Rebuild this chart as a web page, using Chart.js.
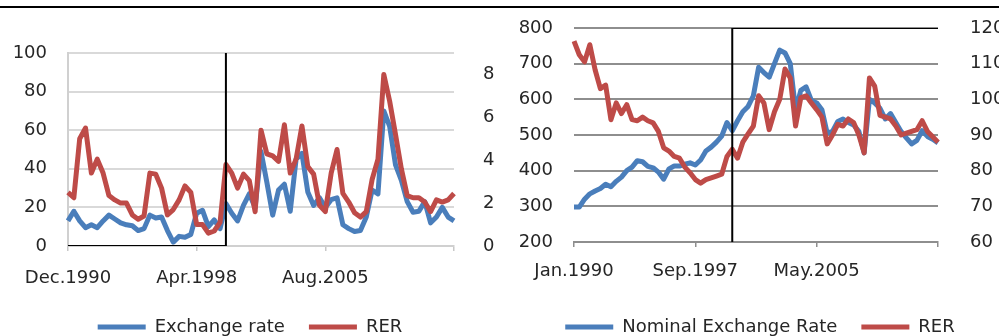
<!DOCTYPE html>
<html>
<head>
<meta charset="utf-8">
<script src="https://cdn.jsdelivr.net/npm/chart.js@4.4.1/dist/chart.umd.min.js"></script>
<style>
  html, body { margin: 0; padding: 0; background: #fff; }
  body { width: 999px; height: 336px; overflow: hidden; position: relative; }
  #topRule { position: absolute; left: 0; top: 6px; width: 999px; height: 2px; background: #000; }
  canvas { position: absolute; top: 0; }
  #leftChart { left: 0; }
  #rightChart { left: 510px; }
</style>
</head>
<body>
<div id="topRule"></div>
<canvas id="leftChart" width="500" height="346"></canvas>
<canvas id="rightChart" width="500" height="346"></canvas>
<script>
// ---- left panel: volatility, Dec.1990 - Dec.2012, every 4 months ----
const leftMonths = [
  "Dec.1990","Apr.1991","Aug.1991","Dec.1991","Apr.1992","Aug.1992","Dec.1992","Apr.1993","Aug.1993",
  "Dec.1993","Apr.1994","Aug.1994","Dec.1994","Apr.1995","Aug.1995","Dec.1995","Apr.1996","Aug.1996",
  "Dec.1996","Apr.1997","Aug.1997","Dec.1997","Apr.1998","Aug.1998","Dec.1998","Apr.1999","Aug.1999",
  "Dec.1999","Apr.2000","Aug.2000","Dec.2000","Apr.2001","Aug.2001","Dec.2001","Apr.2002","Aug.2002",
  "Dec.2002","Apr.2003","Aug.2003","Dec.2003","Apr.2004","Aug.2004","Dec.2004","Apr.2005","Aug.2005",
  "Dec.2005","Apr.2006","Aug.2006","Dec.2006","Apr.2007","Aug.2007","Dec.2007","Apr.2008","Aug.2008",
  "Dec.2008","Apr.2009","Aug.2009","Dec.2009","Apr.2010","Aug.2010","Dec.2010","Apr.2011","Aug.2011",
  "Dec.2011","Apr.2012","Aug.2012","Dec.2012"
];
const exchangeRate = [
  13, 18, 13, 9.5, 11, 9.5, 13, 16, 14, 12,
  11, 10.5, 8, 9, 16, 14.5, 15, 8, 2, 5,
  4.5, 6, 17, 18.5, 10, 13.5, 9, 22, 17, 13,
  21, 27, 20, 49, 33, 16, 29, 32, 18, 45,
  48, 28, 21, 25, 20, 24, 25, 11, 9, 7.5,
  8, 15, 29, 27, 70, 62, 42, 34, 23, 17.5,
  18, 23, 12, 15, 20, 15, 13
];
const rerLeft = [
  2.5, 2.25, 5.0, 5.5, 3.4, 4.05, 3.4, 2.35, 2.15, 2.0,
  2.0, 1.45, 1.25, 1.4, 3.4, 3.35, 2.7, 1.45, 1.7, 2.15,
  2.8, 2.5, 1.0, 1.0, 0.6, 0.7, 1.1, 3.8, 3.4, 2.7,
  3.35, 3.05, 1.6, 5.4, 4.3, 4.2, 3.95, 5.65, 3.4, 4.05,
  5.6, 3.7, 3.35, 1.9, 1.6, 3.4, 4.5, 2.45, 2.05, 1.55,
  1.35, 1.6, 3.1, 4.05, 8.0, 6.75, 5.2, 3.6, 2.35, 2.25,
  2.25, 2.05, 1.6, 2.15, 2.05, 2.15, 2.45
];
const leftBreak = "Dec.1999";

// ---- right panel: levels, Jan.1990 - Jan.2013, every 4 months ----
const rightMonths = [
  "Jan.1990","May.1990","Sep.1990","Jan.1991","May.1991","Sep.1991","Jan.1992","May.1992","Sep.1992",
  "Jan.1993","May.1993","Sep.1993","Jan.1994","May.1994","Sep.1994","Jan.1995","May.1995","Sep.1995",
  "Jan.1996","May.1996","Sep.1996","Jan.1997","May.1997","Sep.1997","Jan.1998","May.1998","Sep.1998",
  "Jan.1999","May.1999","Sep.1999","Jan.2000","May.2000","Sep.2000","Jan.2001","May.2001","Sep.2001",
  "Jan.2002","May.2002","Sep.2002","Jan.2003","May.2003","Sep.2003","Jan.2004","May.2004","Sep.2004",
  "Jan.2005","May.2005","Sep.2005","Jan.2006","May.2006","Sep.2006","Jan.2007","May.2007","Sep.2007",
  "Jan.2008","May.2008","Sep.2008","Jan.2009","May.2009","Sep.2009","Jan.2010","May.2010","Sep.2010",
  "Jan.2011","May.2011","Sep.2011","Jan.2012","May.2012","Sep.2012","Jan.2013"
];
const nominalRate = [
  298, 298, 320, 335, 343, 350, 362, 355, 370, 382,
  400, 410, 428, 425, 412, 408, 396, 376, 405, 413,
  413, 418, 422, 416, 430, 455, 466, 480, 497, 535,
  512, 540, 565, 580, 610, 690, 675, 662, 700, 738,
  730, 700, 570, 625, 635, 597, 590, 571, 505, 510,
  538, 545, 535, 528, 510, 450, 600, 590, 575, 545,
  560, 535, 510, 492, 475, 485, 512, 496, 488, 478
];
const rerRight = [
  116.3, 112.5, 110.5, 115.3, 108.3, 103, 104, 94.3, 99, 96,
  98.5, 94.3, 94, 95, 94, 93.4, 91, 86.4, 85.5, 84,
  83.5, 81, 79.4, 77.5, 76.5, 77.5, 78, 78.5, 79, 84,
  86, 83.5, 88, 90.3, 92.5, 101, 99, 91.5, 96.5, 100,
  108.5, 106, 92.5, 100.5, 101, 99, 97.1, 95, 87.5, 90,
  93, 92.5, 94.5, 93.5, 90, 85, 106, 103.7, 95.5, 95,
  94.5, 92.5, 90, 90.5, 91, 91.5, 94, 91, 89.5, 88
];
const rightBreak = "Jan.2000";

const BLUE = "#4a7ebb";
const RED = "#be4b48";
const TEXT = "#262626";

Chart.defaults.font.family = "'DejaVu Sans', sans-serif";
Chart.defaults.font.size = 18;
Chart.defaults.color = TEXT;

function seriesLine(label, data, color, axis, order) {
  return {
    label, data, yAxisID: axis, order,
    borderColor: color, backgroundColor: color,
    borderWidth: 5, pointRadius: 0, tension: 0, fill: false,
    borderJoinStyle: "round",
  };
}

// black regime-break marker drawn as a thin line dataset
function breakLine(points, axis) {
  return {
    label: "", data: points, yAxisID: axis, order: 0,
    borderColor: "#000", borderWidth: 2, pointRadius: 0, tension: 0, fill: false,
  };
}

// keep the y axes from pushing the plot area down with their label padding
function fixWidth(width) {
  return (s) => {
    s.width = width;
    s.paddingTop = 0;
    s.paddingBottom = 0;
  };
}

function panelOptions(o) {
  const lastIndex = o.count - 1;
  return {
    responsive: false,
    animation: false,
    events: [],
    layout: { padding: { top: o.top, left: 0, right: 0, bottom: 0 } },
    plugins: {
      tooltip: { enabled: false },
      legend: {
        position: "bottom",
        labels: {
          usePointStyle: true,
          pointStyle: "line",
          pointStyleWidth: 48,
          padding: 24,
          color: TEXT,
          filter: (item) => item.datasetIndex < 2,
          sort: (a, b) => a.datasetIndex - b.datasetIndex,
        },
      },
    },
    scales: {
      x: {
        type: "category",
        offset: false,
        afterFit: (s) => { s.height = o.xHeight; },
        afterBuildTicks: (s) => { s.ticks = s.ticks.filter((t) => t.value % o.labelStep === 0); },
        grid: { display: true, drawOnChartArea: false, drawTicks: true, tickLength: 5, color: o.tickColor, lineWidth: 1.5 },
        border: { display: true, color: o.axisColor, width: o.gridWidth },
        ticks: {
          autoSkip: false, maxRotation: 0, padding: o.xPad,
          callback: function (v) { return v === lastIndex ? "" : this.getLabelForValue(v); },
        },
      },
      y: {
        position: "left",
        min: o.yMin, max: o.yMax,
        afterFit: fixWidth(o.leftWidth),
        ticks: { stepSize: o.yStep, padding: o.leftPad },
        grid: { color: o.gridColor, lineWidth: o.gridWidth, drawTicks: false },
        border: { display: o.leftBorder, color: o.axisColor, width: o.gridWidth },
      },
      y1: {
        position: "right",
        min: o.y1Min, max: o.y1Max,
        afterFit: fixWidth(o.rightWidth),
        afterBuildTicks: (s) => { s.ticks = s.ticks.filter((t) => t.value <= o.y1TopTick); },
        ticks: { stepSize: o.y1Step, padding: o.rightPad },
        grid: { display: false },
        border: { display: false },
      },
    },
  };
}

new Chart(document.getElementById("leftChart"), {
  type: "line",
  data: {
    labels: leftMonths,
    datasets: [
      seriesLine("Exchange rate", exchangeRate, BLUE, "y", 2),
      seriesLine("RER", rerLeft, RED, "y1", 1),
      breakLine([
        { x: leftMonths[0], y: 0 },
        { x: leftBreak, y: 0 },
        { x: leftBreak, y: 100 },
      ], "y"),
    ],
  },
  options: panelOptions({
    count: leftMonths.length, labelStep: 22, top: 53,
    xHeight: 48, xPad: 17,
    yMin: 0, yMax: 100, yStep: 20,
    y1Min: 0, y1Max: 9, y1Step: 2, y1TopTick: 8,
    leftWidth: 68, rightWidth: 46, leftPad: 21, rightPad: 21,
    gridColor: "#d9d9d9", axisColor: "#d0d0d0", tickColor: "#c8c8c8", gridWidth: 2,
    leftBorder: true,
  }),
});

new Chart(document.getElementById("rightChart"), {
  type: "line",
  data: {
    labels: rightMonths,
    datasets: [
      seriesLine("Nominal Exchange Rate", nominalRate, BLUE, "y", 2),
      seriesLine("RER", rerRight, RED, "y1", 1),
      breakLine([
        { x: rightBreak, y: 200 },
        { x: rightBreak, y: 800 },
        { x: rightMonths[rightMonths.length - 1], y: 800 },
      ], "y"),
    ],
  },
  options: panelOptions({
    count: rightMonths.length, labelStep: 23, top: 28,
    xHeight: 52, xPad: 14,
    yMin: 200, yMax: 800, yStep: 100,
    y1Min: 60, y1Max: 120, y1Step: 10, y1TopTick: 120,
    leftWidth: 64, rightWidth: 72, leftPad: 21, rightPad: 24,
    gridColor: "#8e8e8e", axisColor: "#8e8e8e", tickColor: "#8e8e8e", gridWidth: 2,
    leftBorder: false,
  }),
});
</script>
</body>
</html>
